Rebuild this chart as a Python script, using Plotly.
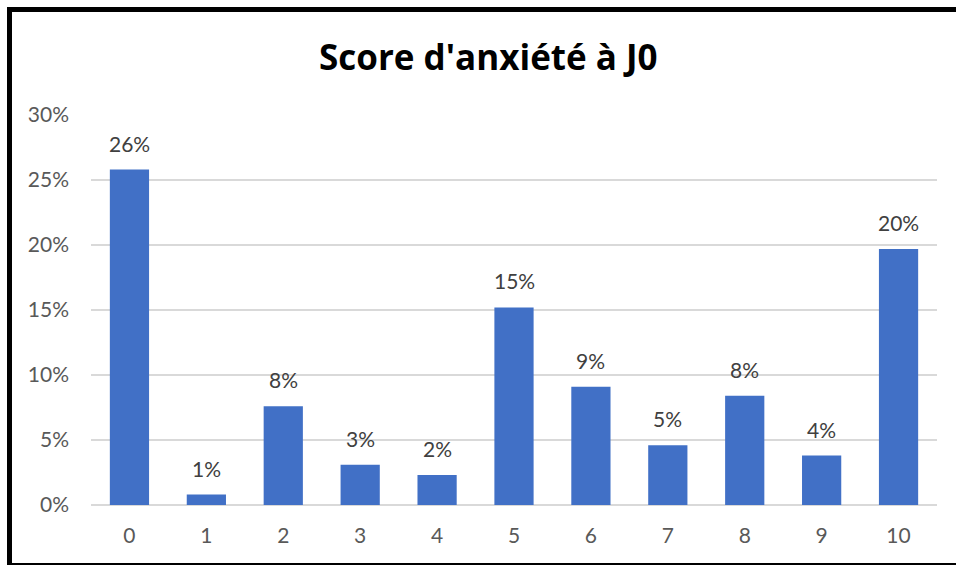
import plotly.graph_objects as go

categories = ["0", "1", "2", "3", "4", "5", "6", "7", "8", "9", "10"]
values = [0.258, 0.008, 0.076, 0.031, 0.023, 0.152, 0.091, 0.046, 0.084, 0.038, 0.197]
title_text = "Score d'anxiété à J0"

W, H = 956, 565
L, R, T, B = 91, 19, 115, 60
pw, ph = W - L - R, H - T - B

def px(x):
    return (x - L) / pw

def py(y):
    return (H - B - y) / ph

fig = go.Figure()
fig.add_trace(go.Bar(
    x=categories, y=values,
    marker=dict(color="#4170c6", line=dict(width=0)),
    width=0.51,
    hoverinfo="skip",
))

annotations = []
for c, v in zip(categories, values):
    annotations.append(dict(
        x=c, y=v, xref="x", yref="y", text=f"{round(v*100):.0f}%",
        showarrow=False, yanchor="bottom", yshift=12,
        font=dict(family="Lato", size=21, color="#404040"),
    ))
annotations.append(dict(
    x=px(488), y=py(56), xref="paper", yref="paper",
    text=f"<b>{title_text}</b>", showarrow=False,
    xanchor="center", yanchor="middle",
    font=dict(family="Open Sans", size=35, color="#000000"),
))

shapes = [
    dict(type="rect", xref="paper", yref="paper", x0=px(7), x1=px(956), y0=py(12), y1=py(7),
         fillcolor="black", line=dict(width=0), layer="above"),
    dict(type="rect", xref="paper", yref="paper", x0=px(7), x1=px(12), y0=py(565), y1=py(7),
         fillcolor="black", line=dict(width=0), layer="above"),
    dict(type="rect", xref="paper", yref="paper", x0=px(12), x1=px(956), y0=py(565), y1=py(563),
         fillcolor="black", line=dict(width=0), layer="above"),
]

fig.update_layout(
    width=W, height=H,
    margin=dict(l=L, r=R, t=T, b=B, pad=0),
    paper_bgcolor="white", plot_bgcolor="white",
    showlegend=False,
    bargap=0.49,
    annotations=annotations,
    shapes=shapes,
    font=dict(family="Lato", size=21, color="#595959"),
    xaxis=dict(
        showgrid=False, showline=False, zeroline=False,
        ticks="", tickfont=dict(family="Lato", size=21, color="#595959"),
        ticklabelstandoff=16,
    ),
    yaxis=dict(
        range=[0, 0.30], dtick=0.05, tickformat=".0%",
        showgrid=True, gridcolor="#d9d9d9", gridwidth=1.5,
        zeroline=True, zerolinecolor="#d9d9d9", zerolinewidth=1.5,
        showline=False, ticks="",
        tickfont=dict(family="Lato", size=21, color="#595959"),
        ticklabelstandoff=21,
    ),
)

fig.write_html(
    "out.html",
    config={"displayModeBar": False},
    post_script="document.body.style.margin='0';document.body.style.overflow='hidden';",
)
